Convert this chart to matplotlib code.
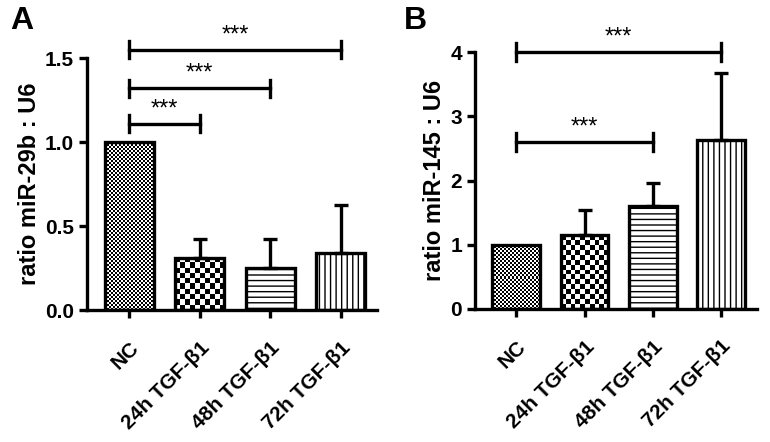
import numpy as np
import matplotlib
matplotlib.use('Agg')
import matplotlib.pyplot as plt

plt.rcParams['font.family'] = ['Liberation Sans', 'DejaVu Sans']
plt.rcParams['font.weight'] = 'bold'
plt.rcParams['axes.labelweight'] = 'bold'

# Data
groups = ['NC', '24h TGF-β1', '48h TGF-β1', '72h TGF-β1']

mir29b_mean = [1.0, 0.31, 0.25, 0.34]
mir29b_err = [0.0, 0.11, 0.17, 0.285]
mir29b_sig = [(0, 1, 1.11, '***'), (0, 2, 1.32, '***'), (0, 3, 1.55, '***')]

mir145_mean = [1.0, 1.15, 1.6, 2.63]
mir145_err = [0.0, 0.39, 0.36, 1.05]
mir145_sig = [(0, 2, 2.6, '***'), (0, 3, 4.0, '***')]

LW = 2.4


def checker(ax, bar, cell):
    # fill a bar with a checkerboard pattern, clipped to the bar
    x0, y0 = bar.get_x(), bar.get_y()
    x1, y1 = x0 + bar.get_width(), y0 + bar.get_height()
    p0 = ax.transData.transform((x0, y0))
    p1 = ax.transData.transform((x1, y1))
    nx = max(1, int(round(abs(p1[0] - p0[0]) / cell)))
    ny = max(1, int(round(abs(p1[1] - p0[1]) / cell)))
    ii, jj = np.indices((ny, nx))
    img = ((ii + jj) % 2).astype(float)
    im = ax.imshow(img, cmap='gray', extent=(x0, x1, y0, y1), aspect='auto',
                   interpolation='nearest', zorder=2, vmin=0, vmax=1)
    im.set_clip_path(bar)


def panel(fig, rect, means, errs, sigs, ylim, yticks, yfmt, ylabel, tip):
    ax = fig.add_axes(rect)
    x = np.arange(len(groups))
    ax.set_xlim(-0.6, 3.52)
    ax.set_ylim(*ylim)
    ax.bar(x, means, width=0.7, color='white', zorder=1)
    bars = ax.bar(x, means, width=0.7, color='none', edgecolor='black',
                  linewidth=LW, zorder=3)
    checker(ax, bars[0], 2)
    checker(ax, bars[1], 5)
    bars[2].set_hatch('---')
    bars[3].set_hatch('|||')
    for i in range(len(groups)):
        if errs[i] > 0:
            ax.errorbar(x[i], means[i], yerr=[[0], [errs[i]]], fmt='none',
                        ecolor='black', elinewidth=LW, capsize=5, capthick=LW,
                        zorder=4)
    for a, b, y, txt in sigs:
        ax.plot([a, b], [y, y], color='black', lw=LW, clip_on=False)
        ax.plot([a, a], [y - tip, y + tip], color='black', lw=LW, clip_on=False)
        ax.plot([b, b], [y - tip, y + tip], color='black', lw=LW, clip_on=False)
        ax.text((a + b) / 2, y + tip * 0.4, txt, ha='center', va='bottom',
                fontsize=17, fontweight='normal')
    ax.set_yticks(yticks)
    ax.set_yticklabels([yfmt.format(v) for v in yticks], fontsize=15)
    ax.set_xticks(x)
    ax.set_xticklabels(groups, rotation=45, ha='right', va='top',
                       rotation_mode='anchor', fontsize=15)
    ax.set_ylabel(ylabel, fontsize=17, labelpad=3)
    for s in ['top', 'right']:
        ax.spines[s].set_visible(False)
    for s in ['left', 'bottom']:
        ax.spines[s].set_linewidth(LW)
    ax.tick_params(width=LW, length=6)
    ax.tick_params(axis='x', pad=14)
    return ax


fig = plt.figure(figsize=(7.7, 4.42), dpi=100)
panel(fig, [0.113, 0.2986, 0.377, 0.570], mir29b_mean, mir29b_err, mir29b_sig,
      (0, 1.5), [0.0, 0.5, 1.0, 1.5], '{:.1f}', 'ratio miR-29b : U6', 0.05)
panel(fig, [0.617, 0.301, 0.366, 0.581], mir145_mean, mir145_err, mir145_sig,
      (0, 4), [0, 1, 2, 3, 4], '{:d}', 'ratio miR-145 : U6', 0.14)
fig.text(10 / 770, 1 - 6 / 442, 'A', fontsize=23, fontweight='bold', ha='left', va='top')
fig.text(404 / 770, 1 - 6 / 442, 'B', fontsize=23, fontweight='bold', ha='left', va='top')
fig.savefig('out.png', dpi=100)
